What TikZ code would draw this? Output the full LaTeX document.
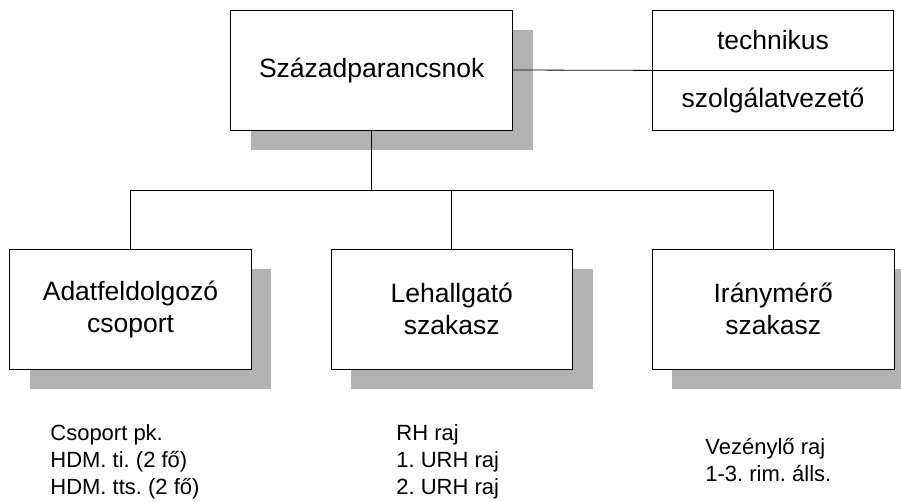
\documentclass[tikz,border=0pt]{standalone}
\usepackage{fontspec}
\setmainfont{Liberation Sans}
\usetikzlibrary{shadows}
\frenchspacing

\tikzset{
  unit/.style={draw, fill=white, line width=0.8pt, align=center,
    minimum width=241.6pt, minimum height=120pt, inner sep=0pt,
    font=\fontsize{26.5}{32}\selectfont},
  shadowbox/.style={unit, general shadow={fill=black!30, shadow xshift=20pt, shadow yshift=-20pt}},
  halfbox/.style={unit, minimum height=60pt},
  members/.style={anchor=base west, align=left, inner sep=0pt,
    font=\fontsize{22}{27}\selectfont}
}

\begin{document}
\begin{tikzpicture}[x=1pt, y=-1pt, line width=0.8pt]
			\useasboundingbox (0,0) rectangle (901,501);
			% boxes
			\node[shadowbox, minimum width=282pt] (chief) at (371.7,70) {Századparancsnok};
			\node[halfbox] (tech) at (773,40) {technikus};
			\node[halfbox] (duty) at (773,100) {szolgálatvezető};
			\node[shadowbox] (data) at (130.5,309) {Adatfeldolgozó\\csoport};
			\node[shadowbox] (listen) at (451.8,309) {Lehallgató\\szakasz};
			\node[shadowbox] (bearing) at (773.2,309) {Iránymérő\\szakasz};
			% connectors
			\draw (chief.east) -- (tech.south west);
			\draw (chief.south) -- ++(0,60) coordinate (bus);
			\draw (data.north) |- (bus) -| (bearing.north);
			\draw (listen.north) -- (listen.north |- bus);
			% members (base = last line)
			\node[members] (datalist) at (50,494) {Csoport pk.\\HDM. ti. (2 fő)\\HDM. tts. (2 fő)};
			\node[members] (listenlist) at (396,494) {RH raj\\1. URH raj\\2. URH raj};
			\node[members] (bearinglist) at (705,481) {Vezénylő raj\\1-3. rim. álls.};
		\end{tikzpicture}
\end{document}
